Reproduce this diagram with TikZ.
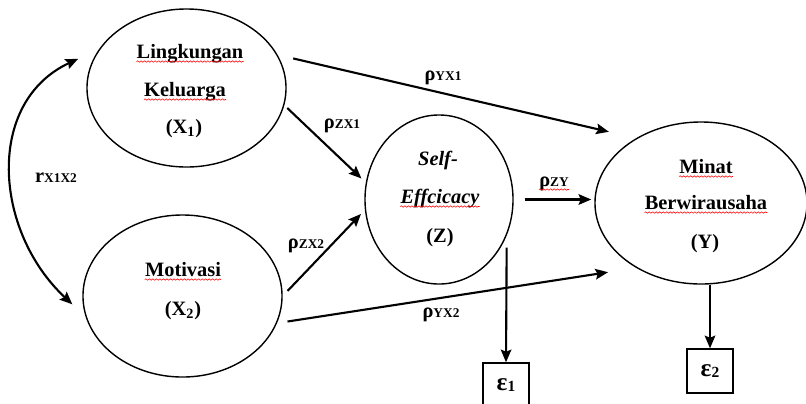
\documentclass[tikz,border=0pt]{standalone}
\usepackage{fontspec}
\setmainfont{Liberation Serif}
\usetikzlibrary{arrows.meta,shapes.geometric,decorations.pathmorphing}
\newcommand\lowsub[1]{\raisebox{-0.6pt}{\fontsize{9.5}{10}\selectfont #1}}

\begin{document}
\begin{tikzpicture}[x=0.025cm, y=-0.025cm,
  var/.style={draw, ellipse, line width=1pt, inner sep=0pt},
  txt/.style={anchor=base, inner sep=0pt, font=\fontsize{14.5}{16}\selectfont\bfseries},
  arr/.style={line width=1.5pt, -{Stealth[length=9pt, width=7.5pt, inset=1.5pt]}},
  dbl/.style={line width=1.5pt, {Stealth[length=9pt, width=7.5pt, inset=1.5pt]}-{Stealth[length=9pt, width=7.5pt, inset=1.5pt]}},
  errbox/.style={draw, line width=1pt, minimum width=1.15cm, minimum height=1.1cm, inner sep=0pt, font=\fontsize{18}{20}\selectfont\bfseries},
  wavy/.style={red, line width=0.4pt, decorate, decoration={snake, amplitude=0.5pt, segment length=2.5pt}}]
  \useasboundingbox (0,0) rectangle (806,403);

  \node[var, minimum width=4.975cm, minimum height=3.95cm] (x1) at (186.5,88) {};
  \node[var, minimum width=4.975cm, minimum height=4.05cm] (x2) at (182.5,296) {};
  \node[var, minimum width=3.7cm, minimum height=4.225cm] (z) at (439,199.5) {};
  \node[var, minimum width=5.3cm, minimum height=4.05cm] (y) at (701,203) {};

  \node[txt] (x1a) at (190,58) {Lingkungan};
  \node[txt] (x1b) at (185,96) {Keluarga};
  \node[txt] (x1c) at (184,133) {(X\textsubscript{1})};
  \node[txt] (x2a) at (183,276) {Motivasi};
  \node[txt] (x2b) at (183,315) {(X\textsubscript{2})};
  \node[txt, font=\fontsize{14.5}{16}\selectfont\bfseries\itshape] (za) at (438,165) {Self-};
  \node[txt, font=\fontsize{14.5}{16}\selectfont\bfseries\itshape] (zb) at (440,203) {Effcicacy};
  \node[txt] (zc) at (440,242) {(Z)};
  \node[txt] (ya) at (706,173) {Minat};
  \node[txt] (yb) at (706,209) {Berwirausaha};
  \node[txt] (yc) at (705,248) {(Y)};

  \node[errbox] (e1) at (506,385) {ε\raisebox{-1pt}{\fontsize{11}{11}\selectfont 1}};
  \node[errbox] (e2) at (710,371) {ε\raisebox{-1pt}{\fontsize{11}{11}\selectfont 2}};

  \node[txt] (c1) at (443,80) {ρ\lowsub{YX1}};
  \node[txt] (c2) at (342,128) {ρ\lowsub{ZX1}};
  \node[txt] (c3) at (306,248) {ρ\lowsub{ZX2}};
  \node[txt] (c4) at (441,317) {ρ\lowsub{YX2}};
  \node[txt] (c5) at (554,186) {ρ\lowsub{ZY}};
  \node[txt] (r12) at (56,182) {r\lowsub{X1X2}};

  \draw[arr, shorten <=0.4cm, shorten >=0.7cm] (x1.20) -- (y.135);
  \draw[arr, shorten <=0.1cm, shorten >=0.15cm] (x1.-10) -- (z.167);
  \draw[arr, shorten <=0.175cm, shorten >=0.14cm] (x2.0) -- (z.188);
  \draw[arr, shorten <=0.265cm, shorten >=0.71cm] (x2.-16) -- (y.225);
  \draw[arr, shorten <=0.275cm, shorten >=0.075cm] (z.east) -- (z.east -| y.west);
  \draw[arr, shorten <=0.3cm] (z.-28) -- (e1.north);
  \draw[arr] (e2.north |- y.south) -- (e2.north);
  \draw[dbl, shorten <=0.575cm, shorten >=0.45cm] (x1.156) to[out=205, in=137, looseness=1.2] (x2.192);

  \foreach \w in {x1a,x1b,x2a,zb,ya,yb,c5}
    \draw[wavy] ([yshift=-2.5pt]\w.base west) -- ([yshift=-2.5pt]\w.base east);
\end{tikzpicture}
\end{document}
